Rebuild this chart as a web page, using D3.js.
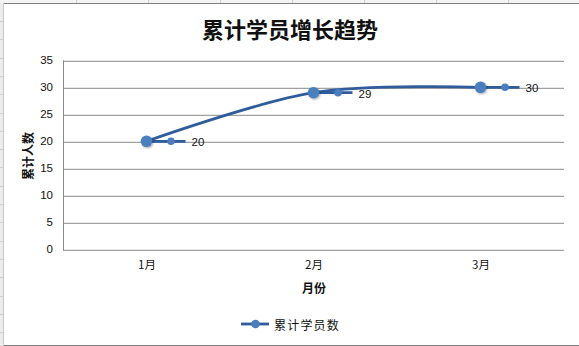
<!DOCTYPE html>
<html>
<head>
<meta charset="utf-8">
<script src="https://cdn.jsdelivr.net/npm/d3@7"></script>
<style>
  html, body { margin: 0; padding: 0; background: #fff; }
  svg { display: block; }
</style>
</head>
<body>
<svg id="chart" width="579" height="346"></svg>
<script>
const months = ['1月', '2月', '3月'];
const students = [20, 29, 30];
const yTicks = [0, 5, 10, 15, 20, 25, 30, 35];
const seriesName = '累计学员数';
const titleText = '累计学员增长趋势';
const xTitle = '月份';
const yTitle = '累计人数';

const W = 579;
const H = 346;
const plot = { left: 63, right: 564, top: 60.3, bottom: 249.3 };
const cjk = '"Noto Sans CJK SC", "Noto Sans", sans-serif';
const num = '"Liberation Sans", "DejaVu Sans", sans-serif';
const lineColor = '#2f5c9b';
const markerColor = '#4a7ebf';
const gridColor = '#8a8a8a';

const svg = d3.select('#chart');

// spreadsheet behind the chart object
svg.append('rect').attr('width', W).attr('height', H).attr('fill', '#fff');
svg.append('rect').attr('x', 0).attr('y', 0).attr('width', 3).attr('height', H)
  .attr('fill', '#ececec');
svg.append('rect').attr('x', 0).attr('y', 0).attr('width', W).attr('height', 3)
  .attr('fill', '#f4f4f4');
const bg = svg.append('g').attr('stroke', '#d0d0d0').attr('stroke-width', 1);
d3.range(21, H, 18.3).forEach((y) => {
  bg.append('line').attr('x1', 0).attr('x2', 3).attr('y1', Math.round(y) + 0.5)
    .attr('y2', Math.round(y) + 0.5);
});
d3.range(75.5, W, 72).forEach((x) => {
  bg.append('line').attr('x1', Math.round(x) + 0.5).attr('x2', Math.round(x) + 0.5)
    .attr('y1', 0).attr('y2', 3);
});
// chart border
svg.append('line').attr('x1', 3).attr('x2', W).attr('y1', 3.5).attr('y2', 3.5)
  .attr('stroke', '#7f7f7f');
svg.append('line').attr('x1', 3).attr('x2', W).attr('y1', 345.5).attr('y2', 345.5)
  .attr('stroke', '#7f7f7f');
svg.append('line').attr('x1', 3.5).attr('x2', 3.5).attr('y1', 3).attr('y2', H)
  .attr('stroke', '#c8c8c8');

const x = d3.scalePoint()
  .domain(months)
  .range([plot.left, plot.right])
  .padding(0.5);
const y = d3.scaleLinear()
  .domain([0, 35])
  .range([plot.bottom, plot.top]);

const defs = svg.append('defs');
const shadow = defs.append('filter').attr('id', 'shadow')
  .attr('x', '-50%').attr('y', '-50%').attr('width', '200%').attr('height', '200%');
shadow.append('feGaussianBlur').attr('in', 'SourceAlpha').attr('stdDeviation', 1.2);
shadow.append('feOffset').attr('dx', 0.5).attr('dy', 1).attr('result', 'b');
shadow.append('feComponentTransfer').append('feFuncA').attr('type', 'linear').attr('slope', 0.35);
const merge = shadow.append('feMerge');
merge.append('feMergeNode');
merge.append('feMergeNode').attr('in', 'SourceGraphic');

// title
svg.append('text')
  .attr('x', 290).attr('y', 28)
  .attr('text-anchor', 'middle')
  .attr('dominant-baseline', 'central')
  .attr('font-family', cjk)
  .attr('font-size', 22)
  .attr('font-weight', 'bold')
  .attr('fill', '#111')
  .text(titleText);

// y axis with gridlines
const yAxis = svg.append('g')
  .attr('transform', `translate(${plot.left},0)`)
  .call(d3.axisLeft(y).tickValues(yTicks).tickSize(-(plot.right - plot.left))
    .tickPadding(10));
yAxis.select('.domain').remove();
yAxis.selectAll('.tick line')
  .attr('stroke', gridColor)
  .attr('transform', 'translate(0,0.5)');
yAxis.selectAll('.tick text')
  .attr('font-family', num)
  .attr('font-size', 11.5)
  .attr('fill', '#111');
svg.append('line')
  .attr('x1', plot.left + 0.5).attr('x2', plot.left + 0.5)
  .attr('y1', plot.top).attr('y2', plot.bottom + 1)
  .attr('stroke', gridColor);

// x axis labels
const xAxis = svg.append('g')
  .attr('transform', `translate(0,${plot.bottom})`)
  .call(d3.axisBottom(x).tickSize(0).tickPadding(12));
xAxis.select('.domain').remove();
xAxis.selectAll('.tick text')
  .attr('font-family', cjk)
  .attr('font-size', 11.5)
  .attr('fill', '#111');

// axis titles
svg.append('text')
  .attr('x', 314).attr('y', 287)
  .attr('text-anchor', 'middle')
  .attr('dominant-baseline', 'central')
  .attr('font-family', cjk)
  .attr('font-size', 12)
  .attr('font-weight', 'bold')
  .attr('fill', '#111')
  .text(xTitle);
svg.append('text')
  .attr('transform', 'translate(27,156) rotate(-90)')
  .attr('text-anchor', 'middle')
  .attr('dominant-baseline', 'central')
  .attr('font-family', cjk)
  .attr('font-size', 12)
  .attr('font-weight', 'bold')
  .attr('fill', '#111')
  .text(yTitle);

// series
const data = months.map((m, i) => ({ month: m, value: students[i] }));
const line = d3.line()
  .curve(d3.curveCardinal.tension(0))
  .x(d => x(d.month))
  .y(d => y(d.value));

svg.append('path')
  .datum(data)
  .attr('d', line)
  .attr('fill', 'none')
  .attr('stroke', lineColor)
  .attr('stroke-width', 2.8)
  .attr('stroke-linecap', 'round');

// data labels with legend key
const labels = svg.append('g').selectAll('g')
  .data(data)
  .join('g')
  .attr('transform', d => `translate(${x(d.month)},${y(d.value)})`);
labels.append('line')
  .attr('x1', 5).attr('x2', 39).attr('y1', 0).attr('y2', 0)
  .attr('stroke', lineColor).attr('stroke-width', 2.8);
labels.append('circle')
  .attr('cx', 24.5).attr('r', 3.8)
  .attr('fill', markerColor);
labels.append('text')
  .attr('x', 45).attr('y', 1)
  .attr('dominant-baseline', 'central')
  .attr('font-family', num)
  .attr('font-size', 11.5)
  .attr('fill', '#111')
  .text(d => d.value);

svg.append('g').selectAll('circle')
  .data(data)
  .join('circle')
  .attr('cx', d => x(d.month))
  .attr('cy', d => y(d.value))
  .attr('r', 5.8)
  .attr('fill', markerColor)
  .attr('filter', 'url(#shadow)');

// legend
const legend = svg.append('g').attr('transform', 'translate(241,324)');
legend.append('line')
  .attr('x1', 0).attr('x2', 28).attr('y1', 0).attr('y2', 0)
  .attr('stroke', lineColor).attr('stroke-width', 2.8);
legend.append('circle')
  .attr('cx', 14.5).attr('r', 4.3)
  .attr('fill', markerColor);
legend.append('text')
  .attr('x', 33).attr('y', 0)
  .attr('dominant-baseline', 'central')
  .attr('font-family', cjk)
  .attr('font-size', 12)
  .attr('letter-spacing', 1.2)
  .attr('fill', '#111')
  .text(seriesName);
</script>
</body>
</html>
